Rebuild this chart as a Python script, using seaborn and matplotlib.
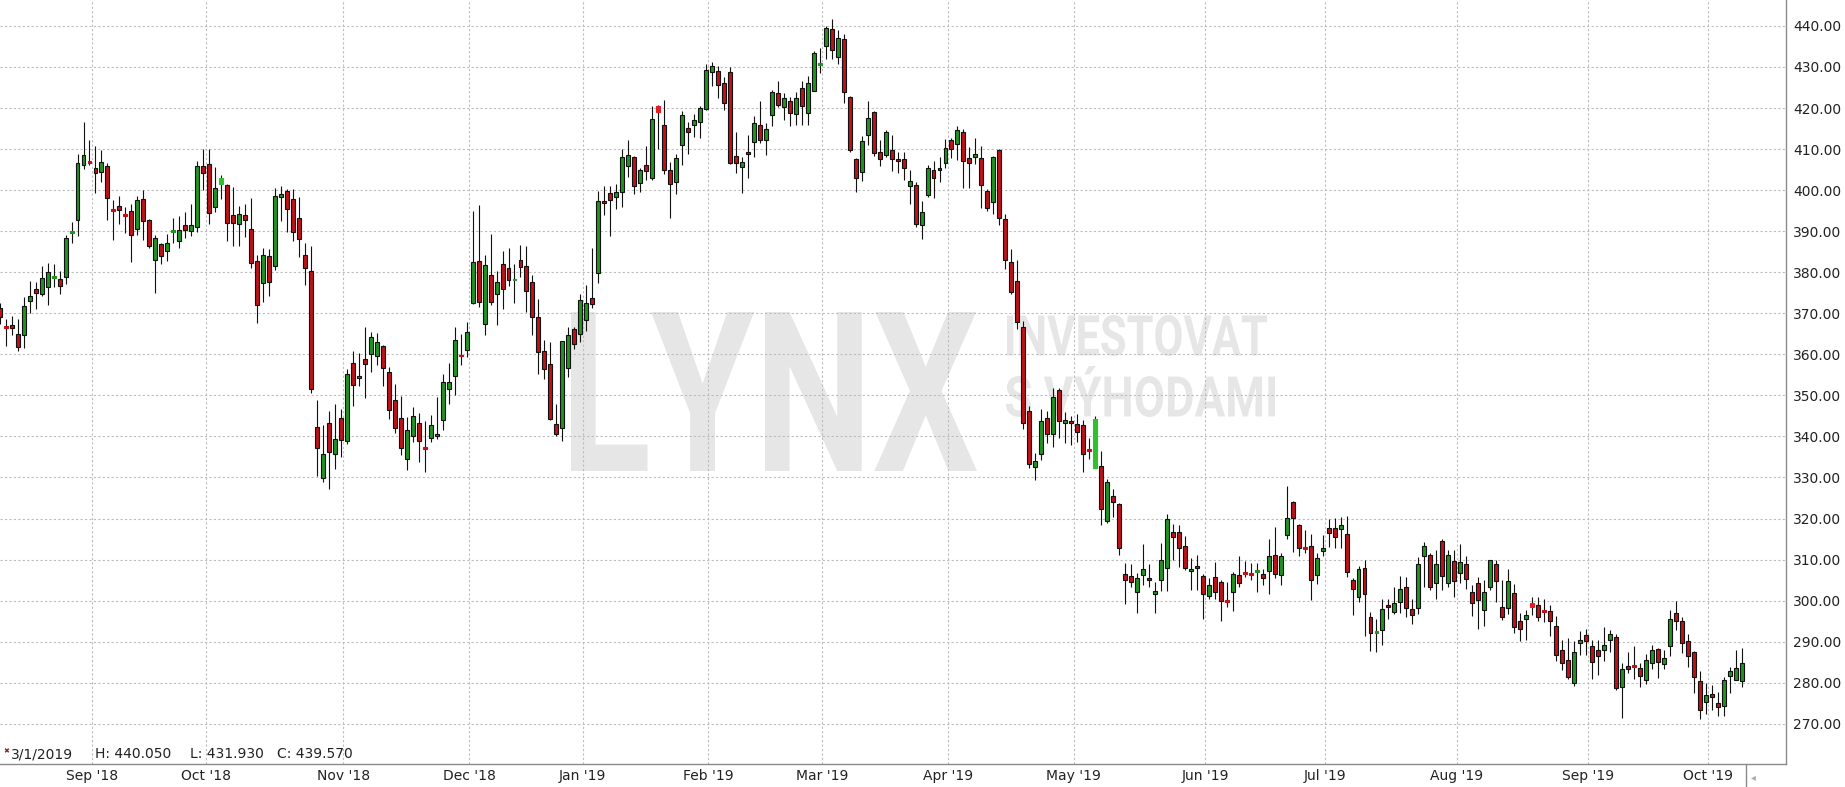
import numpy as np
import pandas as pd
import matplotlib
matplotlib.use("Agg")
import matplotlib.pyplot as plt
import seaborn as sns
from matplotlib.textpath import TextPath
from matplotlib.patches import PathPatch
from matplotlib.font_manager import FontProperties
from matplotlib.transforms import Affine2D, IdentityTransform

# daily OHLC (one entry per trading day)
opens = [
    371.2, 366.9, 367.1, 364.9, 364.6, 373.1, 375.9, 374.6, 376.3, 378.8,
    378.3, 378.8, 389.8, 392.8, 406.1, 407.1, 405.4, 404.4, 405.9, 395.4,
    396.1, 394.2, 394.9, 390.5, 397.8, 392.8, 382.9, 386.8, 385.1, 390.1,
    387.6, 391.5, 390.0, 391.1, 405.9, 406.4, 396.0, 401.5, 401.2, 393.9,
    391.7, 393.9, 390.5, 382.7, 377.3, 384.0, 381.5, 398.3, 399.8, 397.8,
    393.2, 384.1, 380.2, 342.4, 329.9, 343.3, 335.8, 344.5, 339.0, 358.0,
    354.3, 358.9, 360.0, 359.5, 362.0, 355.7, 348.9, 344.6, 334.6, 340.2,
    343.3, 337.3, 339.7, 340.1, 344.1, 351.5, 354.7, 359.9, 361.1, 372.5,
    382.7, 367.5, 379.3, 374.6, 382.1, 381.1, 378.2, 382.9, 381.6, 377.5,
    369.0, 360.7, 357.6, 343.1, 342.1, 356.7, 366.2, 364.9, 368.3, 373.6,
    379.7, 397.3, 399.3, 398.3, 399.5, 405.9, 408.0, 401.7, 406.1, 402.9,
    420.5, 415.9, 404.8, 402.0, 410.9, 415.1, 415.9, 416.6, 419.8, 428.8,
    428.9, 426.1, 428.7, 408.2, 405.6, 409.3, 411.7, 415.9, 412.2, 418.3,
    423.7, 420.2, 421.8, 418.5, 424.9, 418.8, 424.1, 430.6, 435.2, 439.3,
    432.4, 436.8, 422.8, 407.6, 404.3, 413.5, 419.1, 409.4, 408.5, 409.8,
    407.6, 407.5, 401.0, 401.3, 391.5, 398.8, 404.9, 405.4, 406.6, 412.2,
    411.2, 414.2, 407.8, 408.1, 407.8, 399.8, 397.1, 409.8, 392.9, 382.4,
    377.8, 366.7, 346.3, 332.6, 335.6, 344.4, 340.5, 351.3, 343.2, 343.7,
    343.0, 342.8, 336.9, 332.2, 332.9, 319.5, 325.6, 323.5, 306.6, 306.1,
    302.0, 306.3, 305.6, 301.7, 304.9, 308.0, 316.6, 316.6, 313.3, 307.1,
    308.5, 305.9, 301.2, 305.8, 304.6, 300.0, 302.1, 306.3, 306.8, 306.7,
    307.1, 306.6, 307.2, 311.1, 306.3, 315.9, 324.1, 318.5, 313.0, 313.3,
    306.3, 312.1, 317.6, 317.6, 317.5, 316.2, 305.0, 300.9, 308.0, 296.1,
    292.3, 292.9, 299.0, 297.2, 299.7, 303.3, 298.0, 298.3, 310.9, 311.0,
    304.4, 314.5, 304.4, 309.6, 306.8, 308.8, 302.0, 304.4, 297.8, 303.2,
    308.8, 298.5, 298.2, 301.9, 295.0, 295.4, 299.3, 299.0, 297.7, 297.4,
    293.7, 288.0, 285.6, 279.9, 289.7, 291.7, 289.0, 288.0, 288.0, 290.5,
    291.2, 278.9, 284.0, 284.3, 283.7, 280.6, 284.9, 288.3, 284.6, 288.9,
    297.1, 295.0, 290.1, 287.6, 280.3, 275.3, 277.2, 275.1, 274.3, 281.6,
    280.7, 280.4,
]
highs = [
    372.5, 368.6, 369.3, 368.7, 374.0, 377.9, 377.6, 381.4, 382.2, 382.0,
    380.2, 389.1, 392.2, 408.8, 416.6, 412.3, 410.8, 409.8, 406.5, 397.6,
    398.6, 395.9, 396.7, 398.5, 400.1, 393.0, 389.1, 387.0, 389.3, 393.3,
    393.7, 394.7, 396.7, 407.2, 410.0, 410.0, 405.6, 403.7, 401.5, 400.7,
    396.2, 396.6, 398.0, 384.1, 385.9, 385.7, 400.5, 401.1, 400.2, 400.2,
    398.3, 387.1, 386.3, 348.9, 342.7, 346.3, 347.8, 346.7, 356.5, 360.8,
    360.3, 366.7, 365.4, 365.2, 362.2, 356.9, 352.7, 349.8, 344.7, 347.2,
    345.7, 343.7, 345.3, 349.6, 355.1, 357.9, 366.7, 364.9, 367.9, 395.0,
    396.3, 384.1, 389.3, 380.3, 385.2, 385.8, 382.1, 386.7, 386.3, 379.3,
    373.4, 363.6, 363.0, 347.8, 363.2, 366.7, 366.7, 374.6, 376.8, 385.8,
    399.8, 400.9, 401.1, 401.5, 410.0, 412.3, 408.2, 405.4, 410.7, 420.4,
    420.7, 422.0, 406.8, 408.9, 419.2, 416.7, 418.6, 420.6, 430.6, 431.2,
    430.2, 427.6, 430.0, 414.1, 408.0, 413.4, 418.1, 421.8, 416.3, 424.5,
    426.5, 423.7, 422.8, 423.8, 426.7, 427.9, 433.8, 434.5, 440.05, 441.6,
    439.1, 438.1, 422.9, 407.7, 413.3, 421.6, 419.3, 412.2, 414.7, 413.4,
    409.4, 409.4, 404.9, 402.0, 397.4, 406.0, 407.2, 408.1, 412.4, 412.8,
    415.7, 414.9, 410.6, 412.6, 410.8, 400.2, 408.4, 410.1, 394.1, 385.6,
    383.0, 368.0, 347.4, 335.9, 346.6, 346.3, 351.7, 351.7, 346.0, 345.0,
    345.5, 344.0, 339.5, 345.0, 336.4, 329.6, 327.3, 323.8, 309.2, 309.0,
    306.7, 313.9, 309.0, 304.6, 314.1, 321.2, 318.6, 318.4, 315.7, 310.5,
    311.2, 306.6, 305.4, 309.4, 305.0, 304.6, 307.0, 310.8, 309.6, 309.2,
    309.2, 307.8, 315.1, 318.0, 311.6, 327.9, 324.3, 318.7, 317.3, 316.2,
    311.6, 316.1, 320.0, 320.2, 320.4, 320.5, 305.6, 308.4, 309.8, 297.2,
    295.4, 300.3, 300.5, 303.2, 305.9, 305.8, 300.5, 310.7, 314.2, 311.6,
    312.3, 314.9, 312.3, 312.3, 313.7, 310.8, 303.9, 305.8, 305.0, 310.0,
    310.0, 305.0, 307.6, 304.1, 297.0, 297.8, 300.9, 300.9, 300.5, 298.9,
    296.2, 290.3, 291.0, 290.2, 292.5, 293.2, 290.3, 290.3, 293.6, 292.8,
    291.8, 284.9, 287.5, 288.9, 284.7, 287.1, 289.1, 288.4, 287.9, 297.6,
    299.9, 296.0, 291.8, 287.7, 282.8, 279.9, 279.4, 277.7, 281.4, 283.9,
    287.9, 288.5,
]
lows = [
    367.5, 362.1, 364.7, 360.9, 361.5, 370.0, 371.1, 374.1, 371.9, 376.5,
    374.6, 377.1, 387.1, 388.7, 405.1, 406.2, 399.4, 402.0, 392.6, 387.9,
    391.8, 389.5, 382.4, 389.1, 387.9, 385.9, 375.0, 382.0, 382.8, 387.2,
    385.9, 388.4, 388.7, 389.8, 400.1, 391.8, 394.7, 397.9, 387.7, 386.5,
    386.3, 388.5, 381.0, 367.6, 372.8, 374.3, 380.6, 392.4, 389.9, 387.7,
    383.6, 376.9, 350.6, 330.3, 328.9, 327.2, 332.1, 335.1, 338.2, 347.3,
    352.3, 349.4, 355.6, 357.3, 352.3, 344.3, 340.8, 335.4, 331.9, 338.6,
    333.7, 331.3, 338.6, 339.4, 341.5, 348.0, 350.0, 357.3, 359.3, 372.2,
    371.5, 364.6, 372.0, 367.1, 371.1, 376.6, 372.5, 378.9, 370.3, 364.6,
    355.3, 354.1, 343.9, 340.0, 338.9, 354.5, 361.4, 363.0, 365.7, 371.4,
    377.4, 393.9, 388.9, 395.5, 395.9, 403.3, 399.1, 399.5, 402.4, 402.4,
    410.0, 404.0, 393.2, 399.0, 406.2, 408.8, 412.9, 412.7, 419.4, 425.3,
    422.4, 419.4, 406.4, 404.1, 399.3, 402.9, 408.0, 411.5, 408.5, 415.5,
    420.2, 417.0, 415.5, 415.9, 415.8, 415.8, 424.1, 428.5, 431.93, 432.0,
    430.6, 421.2, 409.2, 399.5, 402.1, 411.0, 408.2, 405.9, 408.0, 404.6,
    404.1, 402.4, 396.6, 391.1, 388.2, 398.2, 398.0, 401.9, 405.5, 407.7,
    407.3, 400.4, 400.4, 406.3, 395.6, 394.8, 394.1, 391.5, 380.9, 374.8,
    366.2, 341.9, 332.2, 329.3, 334.2, 338.3, 337.5, 339.5, 338.5, 337.9,
    338.7, 331.4, 334.6, 332.2, 318.5, 318.8, 320.4, 311.2, 299.1, 303.3,
    297.1, 303.9, 303.3, 297.1, 302.4, 302.4, 310.0, 308.2, 307.4, 302.7,
    302.5, 295.6, 300.5, 300.3, 295.0, 298.5, 297.5, 303.3, 305.8, 305.1,
    302.1, 303.7, 301.5, 305.6, 303.7, 315.1, 311.9, 310.9, 311.6, 300.2,
    304.0, 310.9, 313.1, 312.9, 312.7, 305.8, 296.6, 299.7, 291.5, 287.7,
    287.5, 289.3, 295.6, 296.8, 297.0, 296.0, 294.4, 296.8, 303.3, 302.5,
    300.5, 302.5, 303.3, 300.9, 304.4, 302.9, 296.2, 293.2, 293.8, 302.5,
    299.7, 295.2, 296.8, 292.1, 290.1, 290.3, 296.4, 295.0, 294.8, 291.3,
    285.4, 283.0, 281.0, 279.1, 286.7, 286.7, 280.9, 282.0, 285.4, 287.5,
    278.3, 271.4, 282.4, 280.8, 278.9, 279.6, 283.4, 281.1, 283.4, 286.4,
    292.8, 287.2, 283.9, 277.5, 271.2, 272.4, 273.3, 272.0, 271.9, 277.6,
    280.7, 278.9,
]
closes = [
    369.0, 366.6, 366.3, 361.9, 371.8, 374.2, 374.9, 378.5, 380.0, 379.0,
    376.6, 388.3, 390.0, 406.6, 408.6, 406.9, 404.1, 406.8, 398.0, 395.2,
    395.1, 394.0, 389.0, 397.6, 392.4, 386.5, 388.4, 383.9, 387.1, 390.3,
    390.3, 390.2, 391.5, 405.9, 404.1, 394.4, 400.5, 402.9, 392.1, 392.0,
    394.1, 392.7, 382.2, 372.0, 384.1, 377.7, 398.5, 399.0, 395.4, 389.9,
    388.0, 381.0, 351.5, 337.1, 335.6, 336.2, 339.4, 339.2, 355.1, 352.6,
    354.7, 357.7, 364.1, 363.0, 356.7, 346.5, 342.1, 337.2, 341.5, 345.0,
    338.9, 337.1, 342.8, 340.7, 353.2, 353.3, 363.6, 359.7, 365.5, 382.4,
    372.8, 381.7, 372.8, 377.5, 375.8, 378.0, 378.4, 381.3, 375.5, 369.1,
    360.6, 356.3, 344.2, 340.5, 363.2, 364.6, 362.6, 373.3, 372.4, 372.2,
    397.4, 396.8, 397.6, 399.5, 408.0, 408.5, 401.1, 404.9, 404.7, 417.3,
    419.0, 404.9, 401.5, 407.8, 418.3, 414.1, 417.1, 420.0, 429.3, 430.2,
    425.7, 421.2, 406.7, 406.6, 406.8, 408.8, 416.3, 412.3, 415.0, 423.9,
    420.7, 422.4, 418.8, 422.4, 420.6, 426.1, 433.4, 430.8, 439.57, 434.1,
    437.1, 423.9, 409.8, 402.9, 411.9, 417.5, 409.0, 407.6, 414.1, 407.6,
    407.1, 405.4, 402.1, 391.7, 394.7, 405.4, 402.9, 404.9, 410.2, 410.0,
    414.6, 407.1, 406.6, 408.8, 401.2, 395.6, 408.1, 393.3, 382.9, 375.3,
    367.8, 343.2, 333.4, 333.9, 343.8, 340.5, 349.7, 343.8, 344.1, 343.2,
    341.0, 335.6, 336.7, 344.2, 322.4, 328.8, 324.1, 312.9, 305.1, 304.6,
    305.6, 307.8, 305.1, 302.4, 309.8, 320.0, 315.4, 312.7, 308.0, 307.6,
    308.0, 301.7, 303.7, 302.1, 299.9, 299.8, 306.6, 304.3, 306.6, 306.5,
    307.3, 305.4, 310.8, 306.6, 310.8, 320.2, 320.2, 312.7, 312.8, 305.1,
    310.5, 312.9, 316.5, 315.5, 318.3, 307.0, 302.9, 307.8, 301.5, 292.0,
    292.5, 298.0, 298.5, 299.3, 302.9, 298.3, 296.6, 309.0, 313.4, 303.3,
    309.0, 306.0, 311.0, 304.8, 309.3, 305.3, 299.4, 300.2, 302.0, 309.8,
    304.8, 295.9, 304.7, 293.6, 293.1, 296.6, 298.5, 296.0, 297.5, 295.0,
    286.8, 284.8, 281.4, 287.6, 290.5, 290.1, 285.0, 286.5, 289.3, 291.8,
    278.7, 283.4, 283.3, 284.1, 281.6, 285.6, 287.9, 285.0, 285.9, 295.6,
    295.0, 289.7, 286.4, 281.4, 273.4, 277.1, 276.5, 274.1, 280.6, 282.8,
    283.7, 284.9,
]
# candles drawn in the lighter, borderless colour
highlighted = [37, 110, 183, 256]

month_labels = ["Sep '18", "Oct '18", "Nov '18", "Dec '18", "Jan '19", "Feb '19",
                "Mar '19", "Apr '19", "May '19", "Jun '19", "Jul '19", "Aug '19",
                "Sep '19", "Oct '19"]
price_ticks = list(range(270, 441, 10))

holidays = ["2018-09-03", "2018-11-22", "2018-12-05", "2018-12-25", "2019-01-01",
            "2019-01-21", "2019-02-18", "2019-04-19", "2019-05-27", "2019-07-04",
            "2019-09-02"]
dates = pd.bdate_range("2018-08-10", "2019-10-08")
dates = dates[~dates.isin(pd.to_datetime(holidays))]

df = pd.DataFrame({"date": dates, "open": opens, "high": highs,
                   "low": lows, "close": closes})
df["pos"] = np.arange(len(df))
df["month"] = df["date"].dt.to_period("M")
month_pos = df.groupby("month")["pos"].min().iloc[1:].to_numpy() - 0.6

sns.set_style("white")
plt.rcParams["font.family"] = ["DejaVu Sans"]

W, H = 1845, 787
fig = plt.figure(figsize=(W / 100, H / 100), dpi=100)
ax = fig.add_axes([0, (H - 763.5) / H, 1786 / W, 763.5 / H])

GREEN, RED = "#1f9421", "#bd1219"
GREEN_L, RED_L = "#2fbf2f", "#e41d25"

up = df["close"] >= df["open"]
body_lo = np.minimum(df["open"], df["close"])
body_h = (df["close"] - df["open"]).abs()
tiny = body_h < 0.35
face = np.where(up, GREEN, RED).astype(object)
edge = np.array(["#111111"] * len(df), dtype=object)
for i in highlighted:
    face[i] = GREEN_L if up[i] else RED_L
    edge[i] = face[i]
edge[tiny.to_numpy()] = face[tiny.to_numpy()]
heights = np.where(tiny, 0.45, body_h)
bottoms = np.where(tiny, body_lo - 0.2, body_lo)

ax.vlines(df["pos"], df["low"], df["high"], color="#111111", lw=0.8, zorder=2)
ax.bar(df["pos"], heights, bottom=bottoms, width=0.66, color=list(face),
       edgecolor=list(edge), linewidth=0.8, zorder=3)


def watermark(text, box, font="Roboto"):
    # fit the text outline into a pixel box (x0, top, x1, bottom)
    tp = TextPath((0, 0), text, size=100, prop=FontProperties(family=font, weight="bold"))
    bb = tp.get_extents()
    x0, top, x1, bottom = box
    tr = (Affine2D().translate(-bb.x0, -bb.y0)
          .scale((x1 - x0) / bb.width, (bottom - top) / bb.height)
          .translate(x0, H - bottom))
    patch = PathPatch(tr.transform_path(tp), facecolor="#e6e6e6", lw=0,
                      transform=IdentityTransform(), zorder=1)
    ax.add_artist(patch)


watermark("LYNX", (571, 312, 977, 471))
watermark("INVESTOVAT", (1007, 315, 1267, 356))
watermark("S VÝHODAMI", (1006, 366, 1275, 417))

ax.set_xlim(0.05, 0.05 + 1786 / 5.986)
ax.set_ylim(260.32, 446.31)
ax.set_yticks(price_ticks)
ax.set_yticklabels([f"{v:.2f}" for v in price_ticks])
ax.set_xticks(month_pos)
ax.set_xticklabels(month_labels)
ax.yaxis.tick_right()
ax.tick_params(axis="y", length=0, pad=5, labelsize=10, labelcolor="#222222")
ax.tick_params(axis="x", length=0, pad=4, labelsize=10, labelcolor="#222222")

ax.set_axisbelow("line")
ax.grid(True, color="#bdbdbd", linestyle=(0, (2, 2)), linewidth=0.8)
for s in ["top", "left"]:
    ax.spines[s].set_visible(False)
for s in ["right", "bottom"]:
    ax.spines[s].set_color("#8a8a8a")
    ax.spines[s].set_linewidth(1)

# hovered-candle readout at the bottom left
fig.text(3 / W, 1 - 751 / H, "\u2716", fontsize=5, color="#8b2323", va="center")
for x, t in [(11, "3/1/2019"), (95, "H: 440.050"), (190, "L: 431.930"), (277, "C: 439.570")]:
    fig.text(x / W, 1 - 754 / H, t, fontsize=10, color="#222222", va="center")

fig.add_artist(plt.Line2D([1746 / W, 1746 / W], [0, (H - 763.5) / H], color="#8a8a8a", lw=1))
fig.text(1751 / W, 1 - 777 / H, "\u25c2", fontsize=7, color="#aaaaaa", va="center")

fig.savefig("out.png", dpi=100, facecolor="white")
